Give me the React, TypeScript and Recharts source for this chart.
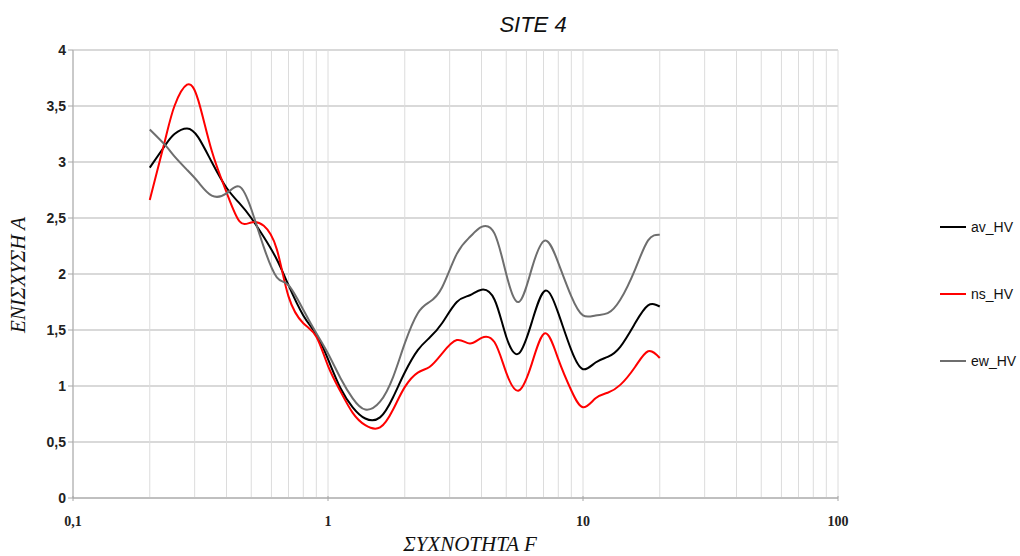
import React from 'react';
import { LineChart, Line, XAxis, YAxis, CartesianGrid, Label } from 'recharts';

// frequency (Hz) and H/V amplitude for each component
const freq = [0.2, 0.23, 0.25, 0.28, 0.31, 0.35, 0.4, 0.45, 0.5, 0.56, 0.63, 0.7, 0.8, 0.9, 1.0, 1.12, 1.25, 1.4, 1.6, 1.8, 2.0, 2.25, 2.5, 2.8, 3.2, 3.6, 4.0, 4.5, 5.0, 5.6, 6.3, 7.1, 8.0, 9.0, 10, 11.2, 12.5, 14, 16, 18, 20];
const avHV = [2.95, 3.15, 3.25, 3.3, 3.22, 3.0, 2.77, 2.63, 2.5, 2.33, 2.13, 1.9, 1.63, 1.46, 1.24, 0.98, 0.81, 0.71, 0.72, 0.9, 1.12, 1.32, 1.43, 1.56, 1.75, 1.81, 1.86, 1.77, 1.44, 1.29, 1.57, 1.85, 1.65, 1.32, 1.15, 1.21, 1.26, 1.35, 1.56, 1.72, 1.71];
const nsHV = [2.66, 3.2, 3.5, 3.69, 3.55, 3.1, 2.73, 2.47, 2.46, 2.43, 2.22, 1.8, 1.56, 1.44, 1.18, 0.95, 0.76, 0.65, 0.63, 0.79, 0.99, 1.12, 1.17, 1.29, 1.41, 1.38, 1.43, 1.39, 1.12, 0.96, 1.2, 1.47, 1.24, 0.96, 0.81, 0.89, 0.94, 1.01, 1.17, 1.31, 1.25];
const ewHV = [3.29, 3.15, 3.05, 2.93, 2.82, 2.7, 2.72, 2.78, 2.58, 2.24, 1.97, 1.9, 1.68, 1.47, 1.29, 1.07, 0.89, 0.79, 0.86, 1.08, 1.38, 1.65, 1.75, 1.88, 2.18, 2.33, 2.42, 2.36, 2.0, 1.75, 2.05, 2.3, 2.1, 1.8, 1.63, 1.63, 1.65, 1.77, 2.04, 2.3, 2.35];

const xTicks = [0.1, 0.2, 0.3, 0.4, 0.5, 0.6, 0.7, 0.8, 0.9, 1, 2, 3, 4, 5, 6, 7, 8, 9, 10, 20, 30, 40, 50, 60, 70, 80, 90, 100];
const majorTicks = [0.1, 1, 10, 100];
const yTicks = [0, 0.5, 1, 1.5, 2, 2.5, 3, 3.5, 4];

const series = [
  { key: 'av_HV', color: '#000000' },
  { key: 'ns_HV', color: '#ff0000' },
  { key: 'ew_HV', color: '#6e6e6e' },
];

const data = freq.map((f, i) => ({ f, av_HV: avHV[i], ns_HV: nsHV[i], ew_HV: ewHV[i] }));

const comma = (v: number) => String(v).replace('.', ',');

const XTick = (props: any) => {
  const { x, y, payload } = props;
  if (!majorTicks.includes(payload.value)) return null;
  return (
    <g>
      <line x1={x} x2={x} y1={y - 10} y2={y - 5} stroke="#a6a6a6" />
      <text x={x} y={y + 20} textAnchor="middle" fontFamily="Liberation Serif" fontWeight="bold" fontSize={14} fill="#222">
        {comma(payload.value)}
      </text>
    </g>
  );
};

const LegendBox = () => (
  <div style={{ position: 'absolute', left: 940, top: 193, fontFamily: 'Liberation Sans', fontSize: 14, color: '#111' }}>
    {series.map((s) => (
      <div key={s.key} style={{ display: 'flex', alignItems: 'center', height: 67 }}>
        <span style={{ display: 'inline-block', width: 26, height: 2, background: s.color, marginRight: 5 }} />
        {s.key}
      </div>
    ))}
  </div>
);

export default function App() {
  return (
    <div style={{ position: 'absolute', left: 0, top: 0, width: 1020, height: 556, background: '#fff' }}>
      <div style={{ position: 'absolute', left: 0, top: 12, width: 1066, textAlign: 'center', fontFamily: 'Liberation Sans', fontStyle: 'italic', fontSize: 22, color: '#111' }}>
        SITE 4
      </div>
      <LineChart width={1020} height={556} data={data} margin={{ top: 50, right: 182, bottom: 28, left: 13 }}>
        <CartesianGrid vertical={false} horizontal stroke="#b3b3b3" strokeWidth={1.2} />
        <CartesianGrid horizontal={false} vertical stroke="#dcdcdc" />
        <XAxis
          dataKey="f"
          type="number"
          scale="log"
          domain={[0.1, 100]}
          ticks={xTicks}
          allowDataOverflow
          tickLine={false}
          tick={<XTick />}
          stroke="#a6a6a6"
          height={30}
          interval={0}
        >
          <Label
            content={() => (
              <text x={470} y={551} textAnchor="middle" fontFamily="Liberation Serif" fontStyle="italic" fontSize={21} fill="#111">
                ΣΥΧΝΟΤΗΤΑ F
              </text>
            )}
          />
        </XAxis>
        <YAxis
          type="number"
          domain={[0, 4]}
          ticks={yTicks}
          width={60}
          stroke="#a6a6a6"
          tickSize={5}
          tickFormatter={comma}
          tick={{ fontFamily: 'Liberation Sans', fontWeight: 'bold', fontSize: 14, fill: '#222' }}
          interval={0}
        >
          <Label
            content={() => (
              <text x={25} y={275} transform="rotate(-90 25 275)" textAnchor="middle" fontFamily="Liberation Serif" fontStyle="italic" fontSize={21} fill="#111">
                ΕΝΙΣΧΥΣΗ Α
              </text>
            )}
          />
        </YAxis>
        {series.map((s) => (
          <Line key={s.key} dataKey={s.key} type="natural" stroke={s.color} strokeWidth={2} dot={false} isAnimationActive={false} />
        ))}
      </LineChart>
      <LegendBox />
    </div>
  );
}
